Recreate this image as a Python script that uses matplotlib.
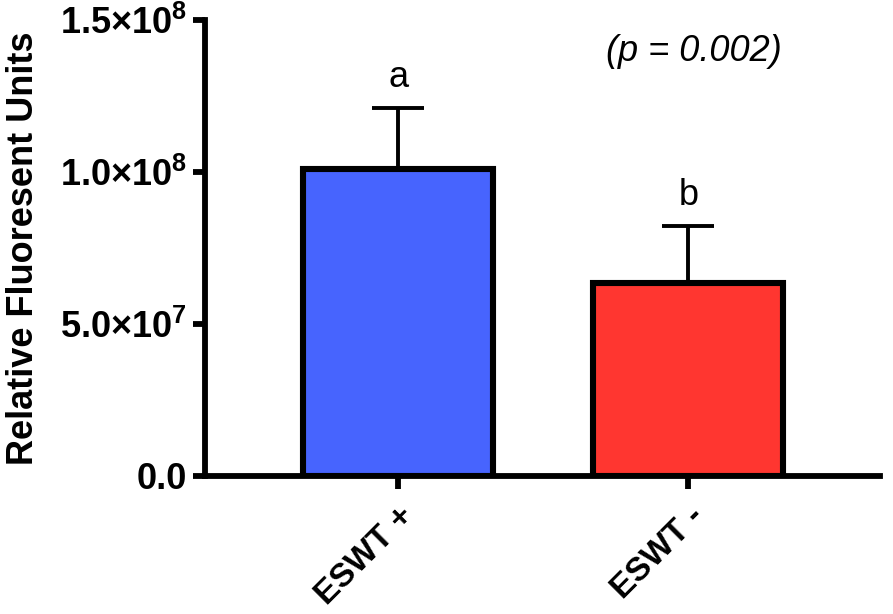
import matplotlib
matplotlib.use('Agg')
import matplotlib.pyplot as plt
from matplotlib.ticker import FixedLocator

groups = ['ESWT +', 'ESWT -']
means = [1.01e8, 6.35e7]
errors = [2.0e7, 1.87e7]
letters = ['a', 'b']
bar_colors = ['#4764FE', '#FF3630']
y_ticks = [0, 5e7, 1e8, 1.5e8]
y_tick_labels = ['0.0', '5.0\u00d710$^{\\mathbf{7}}$', '1.0\u00d710$^{\\mathbf{8}}$', '1.5\u00d710$^{\\mathbf{8}}$']
p_text = '(p = 0.002)'

plt.rcParams['font.family'] = ['Liberation Sans', 'DejaVu Sans']
plt.rcParams['mathtext.fontset'] = 'custom'
plt.rcParams['mathtext.rm'] = 'Liberation Sans'
plt.rcParams['mathtext.bf'] = 'Liberation Sans:bold'

fig = plt.figure(figsize=(8.93, 6.14), dpi=100)
ax = fig.add_axes([0.2296, 0.2248, 0.7558, 0.7426])

x = list(range(len(groups)))
ax.bar(x, means, width=0.655, color=bar_colors, edgecolor='black',
       linewidth=4.4, zorder=2)
ax.errorbar(x, means, yerr=[[0, 0], errors], fmt='none', ecolor='black',
            elinewidth=2.8, capsize=19, capthick=2.8, zorder=1)

for xi, m, e, lab in zip(x, means, errors, letters):
    ax.text(xi, m + e + 0.69e7, lab, ha='center', va='baseline', fontsize=26)

ax.text(1.017, 1.395e8, p_text, ha='center', va='center', fontsize=26,
        style='italic')

ax.set_xlim(-0.666, 1.66)
ax.set_ylim(0, 1.5e8)

ax.yaxis.set_major_locator(FixedLocator(y_ticks))
ax.set_yticklabels(y_tick_labels)
ax.set_xticks(x)
ax.set_xticklabels(groups, rotation=45, ha='right', rotation_mode='anchor')

for lbl in ax.get_yticklabels():
    lbl.set_fontweight('bold')
    lbl.set_fontsize(26)
for lbl in ax.get_xticklabels():
    lbl.set_fontweight('bold')
    lbl.set_fontsize(24)

ax.set_ylabel('Relative Fluoresent Units', fontsize=26, fontweight='bold')
ax.yaxis.set_label_coords(-0.243, 0.5)

ax.spines['top'].set_visible(False)
ax.spines['right'].set_visible(False)
ax.spines['left'].set_linewidth(4.2)
ax.spines['bottom'].set_linewidth(4.2)
ax.tick_params(axis='both', width=4.2, length=9, pad=4)
ax.tick_params(axis='x', pad=9)

fig.savefig('out.png', dpi=100)
